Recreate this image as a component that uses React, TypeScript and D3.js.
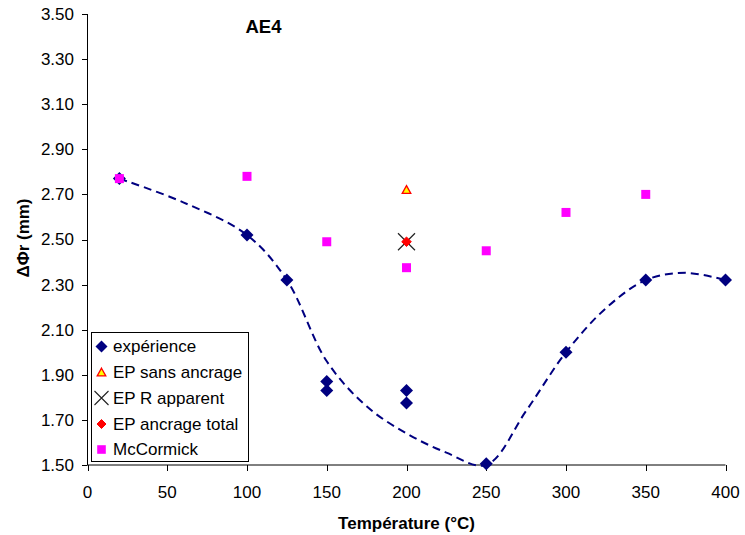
import React from "react";
import * as d3 from "d3";

const expX = [20, 100, 125, 150, 150, 200, 200, 250, 300, 350, 400];
const expY = [2.77, 2.52, 2.32, 1.87, 1.83, 1.83, 1.775, 1.505, 2.0, 2.32, 2.32];

const mcX = [20, 100, 150, 200, 250, 300, 350];
const mcY = [2.77, 2.78, 2.49, 2.375, 2.45, 2.62, 2.70];

const sansAncrage = [{ x: 200, y: 2.72 }];
const rApparent = [{ x: 200, y: 2.49 }];
const ancrageTotal = [{ x: 200, y: 2.49 }];

// dashed trend curve
const trendX = [20, 60, 100, 125, 150, 175, 200, 225, 250, 275, 300, 325, 350, 375, 400];
const trendY = [2.77, 2.665, 2.52, 2.32, 1.96, 1.76, 1.64, 1.555, 1.50, 1.74, 2.0, 2.195, 2.32, 2.352, 2.32];

const xTicks = [0, 50, 100, 150, 200, 250, 300, 350, 400];
const yTicks = [1.5, 1.7, 1.9, 2.1, 2.3, 2.5, 2.7, 2.9, 3.1, 3.3, 3.5];

const legendLabels = ["expérience", "EP sans ancrage", "EP R apparent", "EP ancrage total", "McCormick"];

const W = 745;
const H = 535;
const FONT = "'Liberation Sans', Arial, sans-serif";
const NAVY = "#000080";
const MAGENTA = "#FF00FF";

const diamond = (cx: number, cy: number, r: number) =>
  `M${cx},${cy - r}L${cx + r},${cy}L${cx},${cy + r}L${cx - r},${cy}Z`;
const square = (cx: number, cy: number, r: number) =>
  `M${cx - r},${cy - r}h${2 * r}v${2 * r}h${-2 * r}Z`;
const triangle = (cx: number, cy: number, r: number) =>
  `M${cx},${cy - r}L${cx + r},${cy + r * 0.8}L${cx - r},${cy + r * 0.8}Z`;
const cross = (cx: number, cy: number, r: number) =>
  `M${cx - r},${cy - r}L${cx + r},${cy + r}M${cx - r},${cy + r}L${cx + r},${cy - r}`;

export default function App() {
  const x = d3.scaleLinear().domain([0, 400]).range([87.5, 725.5]);
  const y = d3.scaleLinear().domain([1.5, 3.5]).range([465, 14]);

  const trend = trendX.map((v, i) => [v, trendY[i]] as [number, number]);
  const linePath = d3
    .line<[number, number]>()
    .x((d) => x(d[0]))
    .y((d) => y(d[1]))
    .curve(d3.curveCatmullRom.alpha(0.5))(trend) || "";

  const legX = 91;
  const legY = 332;
  const legW = 157;
  const legH = 129;
  const rowY = [346.5, 372.5, 398, 424, 449.5];
  const FS = 17;

  return (
    <svg width={W} height={H} style={{ position: "absolute", left: 0, top: 0, background: "#fff" }} fontFamily={FONT}>
      <rect x={0} y={0} width={W} height={H} fill="#fff" />
      {/* Y axis */}
      <line x1={87.5} x2={87.5} y1={14} y2={465} stroke="#000" strokeWidth={1} />
      {yTicks.map((t) => (
        <g key={"y" + t}>
          <line x1={82} x2={87.5} y1={Math.round(y(t)) + 0.5} y2={Math.round(y(t)) + 0.5} stroke="#000" />
          <text x={74} y={y(t)} dy="0.35em" textAnchor="end" fontSize={FS} fill="#000">
            {t.toFixed(2)}
          </text>
        </g>
      ))}
      {/* X axis */}
      <line x1={87.5} x2={725.5} y1={465} y2={465} stroke="#000" strokeWidth={1} />
      {xTicks.map((t) => (
        <g key={"x" + t}>
          <line x1={Math.round(x(t)) + 0.5} x2={Math.round(x(t)) + 0.5} y1={465} y2={471} stroke="#000" />
          <text x={x(t)} y={498} textAnchor="middle" fontSize={FS} fill="#000">
            {t}
          </text>
        </g>
      ))}

      {/* trend curve */}
      <path d={linePath} fill="none" stroke={NAVY} strokeWidth={2} strokeDasharray="8,5" />

      {/* expérience */}
      {expX.map((v, i) => (
        <path key={"e" + i} d={diamond(x(v), y(expY[i]), 6.5)} fill={NAVY} />
      ))}
      {/* McCormick */}
      {mcX.map((v, i) => (
        <path key={"m" + i} d={square(x(v), y(mcY[i]), 4.5)} fill={MAGENTA} />
      ))}
      {/* EP sans ancrage */}
      {sansAncrage.map((d, i) => (
        <path key={"s" + i} d={triangle(x(d.x), y(d.y), 4.3)} fill="#FFFF00" stroke="#FF0000" strokeWidth={1.3} />
      ))}
      {/* EP R apparent */}
      {rApparent.map((d, i) => (
        <path key={"r" + i} d={cross(x(d.x), y(d.y), 8.5)} fill="none" stroke="#222" strokeWidth={1.2} />
      ))}
      {/* EP ancrage total */}
      {ancrageTotal.map((d, i) => (
        <path key={"t" + i} d={diamond(x(d.x), y(d.y), 4.8)} fill="#FF0000" stroke="#FF0000" strokeWidth={1} strokeLinejoin="round" />
      ))}

      {/* Legend */}
      <rect x={legX + 0.5} y={legY + 0.5} width={legW} height={legH} fill="#fff" stroke="#000" strokeWidth={1} />
      <path d={diamond(101.5, rowY[0], 6)} fill={NAVY} />
      <path d={triangle(101.5, rowY[1], 4.3)} fill="#FFFF00" stroke="#FF0000" strokeWidth={1.3} />
      <path d={cross(101.5, rowY[2], 7)} fill="none" stroke="#222" strokeWidth={1.1} />
      <path d={diamond(101.5, rowY[3], 4.5)} fill="#FF0000" stroke="#FF0000" strokeLinejoin="round" />
      <path d={square(101.5, rowY[4], 4.3)} fill={MAGENTA} />
      {legendLabels.map((l, i) => (
        <text key={l} x={113} y={rowY[i]} dy="0.35em" fontSize={FS} fill="#000">
          {l}
        </text>
      ))}

      {/* Title */}
      <text x={263.5} y={27} dy="0.35em" textAnchor="middle" fontSize={18.5} fontWeight="bold" fill="#000">
        AE4
      </text>
      {/* X title */}
      <text x={406.5} y={523} dy="0.35em" textAnchor="middle" fontSize={FS} fontWeight="bold" fill="#000">
        Température (°C)
      </text>
      {/* Y title */}
      <text
        transform={`translate(23,238) rotate(-90)`}
        textAnchor="middle"
        dy="0.35em"
        fontSize={FS}
        fontWeight="bold"
        fill="#000"
      >
        ΔΦr (mm)
      </text>
    </svg>
  );
}
